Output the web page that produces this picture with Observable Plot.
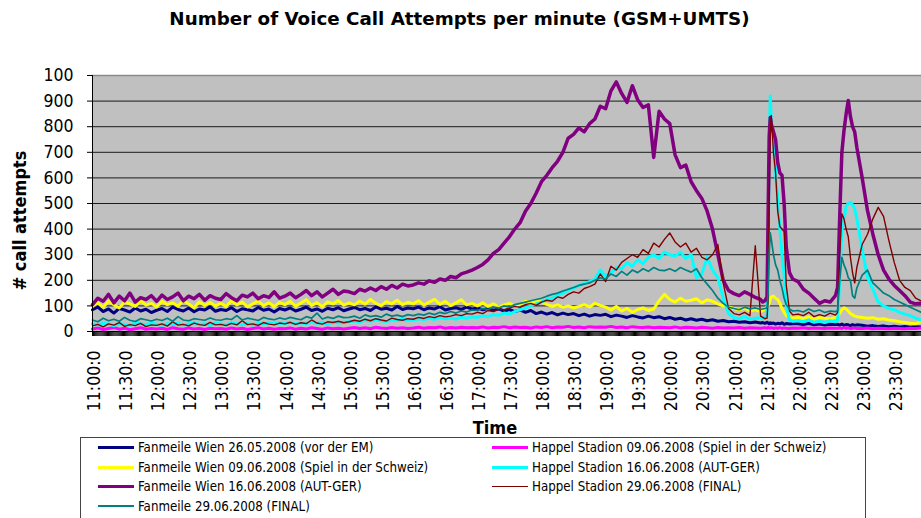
<!DOCTYPE html>
<html>
<head>
<meta charset="utf-8">
<script src="https://cdn.jsdelivr.net/npm/d3@7"></script>
<script src="https://cdn.jsdelivr.net/npm/@observablehq/plot@0.6"></script>
<style>
  html, body { margin: 0; padding: 0; background: #fff; }
  body { width: 921px; height: 518px; overflow: hidden; position: relative;
         font-family: "DejaVu Sans Condensed", "DejaVu Sans", sans-serif; font-stretch: condensed; }
  #title { height: 40px; line-height: 38px; text-align: center; font-weight: bold; font-size: 18.3px;
           font-family: "DejaVu Sans", sans-serif; font-stretch: normal; padding-right: 2px; color: #000; }
  #chart svg { display: block; }
  #legend { position: absolute; left: 80px; top: 437px; width: 784px; height: 100px;
            border: 1px solid #444; background: #fff; }
  .item { position: absolute; height: 19px; display: flex; align-items: center;
          font-size: 13.2px; color: #000; white-space: nowrap; }
  .swatch { width: 36px; margin-right: 4px; }
</style>
</head>
<body>
<div id="title">Number of Voice Call Attempts per minute (GSM+UMTS)</div>
<div id="chart"></div>
<div id="legend"></div>
<script>
// ---------------- data ----------------
const times = [
  "11:00","11:05","11:10","11:15","11:20","11:25","11:30","11:35","11:40","11:45","11:50","11:55",
  "12:00","12:05","12:10","12:15","12:20","12:25","12:30","12:35","12:40","12:45","12:50","12:55",
  "13:00","13:05","13:10","13:15","13:20","13:25","13:30","13:35","13:40","13:45","13:50","13:55",
  "14:00","14:05","14:10","14:15","14:20","14:25","14:30","14:35","14:40","14:45","14:50","14:55",
  "15:00","15:05","15:10","15:15","15:20","15:25","15:30","15:35","15:40","15:45","15:50","15:55",
  "16:00","16:05","16:10","16:15","16:20","16:25","16:30","16:35","16:40","16:45","16:50","16:55",
  "17:00","17:05","17:10","17:15","17:20","17:25","17:30","17:35","17:40","17:45","17:50","17:55",
  "18:00","18:05","18:10","18:15","18:20","18:25","18:30","18:35","18:40","18:45","18:50","18:55",
  "19:00","19:05","19:10","19:15","19:20","19:25","19:30","19:35","19:40","19:45","19:50","19:55",
  "20:00","20:05","20:10","20:15","20:20","20:25","20:30","20:35","20:40","20:45","20:50","20:55",
  "21:00","21:05","21:10","21:15","21:20","21:25",
  "21:27","21:29","21:31","21:32","21:33","21:34","21:35","21:37","21:39","21:41","21:43","21:45","21:47","21:49","21:52","21:55",
  "22:00","22:05","22:10","22:15","22:20","22:25","22:30","22:35",
  "22:37","22:39","22:41","22:43","22:45","22:47","22:49","22:51","22:53","22:55",
  "23:00","23:05","23:10","23:15","23:20","23:25","23:30","23:35","23:40","23:45","23:50","23:55"
];

const fanmeile2605 = [
  85,95,78,88,72,90,84,76,92,80,87,74,
  83,90,78,95,86,80,92,77,88,84,96,79,
  86,82,93,78,89,85,80,94,83,88,76,90,
  84,92,80,87,95,82,88,79,91,85,93,81,
  88,94,85,90,82,96,87,91,84,98,86,92,
  89,95,85,92,88,97,84,90,93,86,95,88,
  92,85,90,83,88,80,86,78,84,75,82,70,
  76,68,74,65,72,66,70,62,68,60,66,63,
  67,58,64,60,55,62,57,53,60,54,58,50,
  55,48,52,45,50,44,48,42,46,40,43,38,
  40,36,38,34,37,33,
  35,32,36,33,30,34,31,33,29,32,30,34,28,31,29,30,
  30,27,31,26,29,25,28,27,
  28,25,29,24,27,26,23,27,24,26,
  24,21,23,20,22,19,21,18,20,17,19,18
];

const happel0906 = [
  10,14,8,12,16,9,13,7,11,15,9,12,
  10,13,8,15,11,9,14,10,12,8,13,11,
  12,9,14,10,13,8,12,15,10,13,9,12,
  11,14,9,13,10,15,12,9,14,11,13,10,
  13,16,12,15,11,17,14,12,16,13,15,12,
  14,17,13,16,15,18,13,16,14,17,15,16,
  15,18,14,17,16,19,15,18,16,17,14,18,
  16,19,15,18,17,20,16,18,15,19,17,18,
  17,20,16,18,15,19,17,16,18,15,17,16,
  15,18,14,17,16,14,17,15,13,16,14,15,
  14,16,13,15,14,13,
  14,15,13,16,14,13,15,12,14,13,15,12,14,13,12,14,
  13,15,12,14,13,12,14,13,
  13,14,12,15,13,14,12,13,14,12,
  12,14,11,13,12,11,13,12,11,13,12,14
];

const fanmeile0906 = [
  100,112,95,118,104,92,115,108,98,120,103,110,
  96,118,105,112,99,122,107,94,116,102,113,100,
  110,98,120,104,115,96,108,119,101,112,97,114,
  105,118,99,111,124,102,113,97,116,108,121,103,
  112,104,119,107,125,110,101,117,108,122,105,114,
  108,120,103,115,126,106,118,101,112,124,104,110,
  100,112,98,108,95,104,110,100,106,118,112,120,
  115,106,98,104,95,100,92,98,105,96,110,102,
  95,84,98,80,90,75,86,92,82,88,120,145,
  125,115,130,118,122,128,112,124,118,108,100,96,
  90,85,92,80,86,78,
  82,88,95,100,110,125,135,138,130,125,110,90,75,62,56,52,
  55,50,57,48,54,52,49,55,
  60,72,85,92,88,80,70,65,60,58,
  55,52,54,48,50,45,42,38,35,32,30,38
];

const happel1606 = [
  30,25,33,28,22,31,27,24,34,29,26,32,
  28,24,31,27,33,25,29,35,27,30,24,32,
  29,26,34,30,27,32,25,31,28,35,30,33,
  31,36,29,34,30,38,32,35,29,37,33,36,
  38,42,36,45,40,47,42,39,46,43,48,44,
  45,50,47,52,48,55,50,53,49,56,52,58,
  55,62,58,66,63,72,68,78,85,92,100,108,
  115,125,130,142,150,162,170,180,188,195,205,240,
  215,230,250,245,270,255,280,265,290,300,285,310,
  300,295,310,285,300,210,225,290,240,210,130,70,
  55,50,58,48,52,55,
  50,55,60,300,700,920,820,760,620,520,400,300,220,100,45,40,
  42,38,45,36,40,35,42,38,
  45,200,395,440,490,500,505,495,480,440,
  320,211,165,115,100,90,85,75,68,62,52,45
];

const fanmeile1606 = [
  105,130,118,145,112,138,120,150,115,132,125,140,
  118,142,125,135,150,120,138,128,145,122,140,130,
  125,148,132,120,142,135,150,128,140,133,155,130,
  138,150,132,145,160,140,155,135,150,165,145,158,
  155,148,165,158,170,160,175,165,180,170,185,178,
  182,190,185,198,192,205,200,215,210,225,232,240,
  250,262,280,305,320,345,370,400,425,470,500,540,
  585,610,640,665,700,755,770,795,780,812,830,880,
  870,940,975,930,895,960,905,875,885,680,860,830,
  812,690,640,650,585,550,520,470,400,300,200,160,
  148,140,155,145,133,125,
  115,120,135,450,760,836,810,780,750,660,620,610,500,330,230,205,
  195,165,150,130,110,120,115,140,
  172,450,700,785,850,902,840,800,780,720,
  600,472,380,300,240,205,180,160,140,115,108,110
];

const happel2906 = [
  22,28,18,30,25,35,20,27,23,32,19,26,
  24,30,21,38,25,28,22,33,27,24,36,26,
  28,23,32,26,42,27,30,24,35,29,26,33,
  30,36,28,34,31,45,33,29,38,35,40,34,
  38,44,40,48,42,50,45,41,52,47,44,50,
  48,55,51,58,54,62,57,60,66,62,70,68,
  75,70,82,78,88,84,92,98,94,105,110,102,
  115,122,118,135,130,145,155,150,168,175,185,225,
  195,255,240,270,285,300,290,320,305,345,330,360,
  385,350,330,345,310,325,290,280,300,340,190,90,
  70,65,75,62,335,60,
  55,50,52,120,500,760,844,700,620,470,410,400,390,180,80,65,
  68,62,75,58,66,60,72,64,
  75,300,460,440,400,370,290,230,190,250,
  340,380,440,485,450,355,270,200,172,160,130,120
];

const fanmeile2906 = [
  45,38,52,42,48,40,55,44,39,50,46,41,
  48,43,52,40,58,45,42,50,47,44,53,46,
  44,50,47,62,45,52,48,43,55,49,46,53,
  48,55,50,46,58,52,72,49,56,51,60,54,
  55,60,52,65,58,62,56,68,60,64,58,66,
  62,68,64,72,66,75,70,78,72,80,76,84,
  82,90,86,95,92,100,96,105,110,115,120,125,
  130,138,145,150,158,165,172,180,185,190,200,210,
  205,225,215,235,220,240,230,245,235,250,240,238,
  245,235,250,240,232,245,210,185,160,130,110,95,
  90,85,95,88,92,86,
  88,90,92,150,300,385,360,300,260,240,200,170,130,105,88,80,
  82,76,88,78,84,74,80,78,
  82,200,290,260,240,210,200,140,130,170,
  220,240,190,170,150,140,125,115,105,95,85,75
];

const seriesNames = [
  "Fanmeile Wien 26.05.2008 (vor der EM)",
  "Happel Stadion 09.06.2008 (Spiel in der Schweiz)",
  "Fanmeile Wien 09.06.2008 (Spiel in der Schweiz)",
  "Happel Stadion 16.06.2008 (AUT-GER)",
  "Fanmeile Wien 16.06.2008 (AUT-GER)",
  "Happel Stadion 29.06.2008 (FINAL)",
  "Fanmeile 29.06.2008 (FINAL)"
];
const seriesValues = [fanmeile2605, happel0906, fanmeile0906, happel1606, fanmeile1606, happel2906, fanmeile2906];
const seriesColors = ["#000080", "#ff00ff", "#ffff00", "#00ffff", "#800080", "#800000", "#008080"];
const seriesWidths = [3, 3, 3, 3, 3.5, 1.4, 1.7];

const xTickLabels = ["11:00:0","11:30:0","12:00:0","12:30:0","13:00:0","13:30:0","14:00:0","14:30:0",
  "15:00:0","15:30:0","16:00:0","16:30:0","17:00:0","17:30:0","18:00:0","18:30:0","19:00:0","19:30:0",
  "20:00:0","20:30:0","21:00:0","21:30:0","22:00:0","22:30:0","23:00:0","23:30:0"];
const yTicks = [0,100,200,300,400,500,600,700,800,900,1000];
const yTickLabels = ["0","100","200","300","400","500","600","700","800","900","100"];

// ---------------- build ----------------
const toMin = s => { const [h, m] = s.split(":").map(Number); return h * 60 + m; };
const tMin = times.map(toMin);
const xLabelTicks = xTickLabels.map(toMin);
const minuteTicks = d3.range(660, 1436, 1);
const FONT = '"DejaVu Sans Condensed", "DejaVu Sans", sans-serif';

const lineMarks = seriesValues.map((vals, k) =>
  Plot.line(vals.map((v, i) => ({t: tMin[i], v})), {
    x: "t", y: "v", stroke: seriesColors[k], strokeWidth: seriesWidths[k],
    strokeLinejoin: "round", strokeLinecap: "round"
  })
);

const chart = Plot.plot({
  width: 921, height: 396,
  marginLeft: 92, marginRight: 0, marginTop: 35, marginBottom: 105,
  x: {domain: [660, 1435.5], label: null},
  y: {domain: [0, 1000], label: null},
  style: {fontFamily: FONT, fontStretch: "condensed", color: "#000", background: "transparent", overflow: "visible"},
  marks: [
    Plot.frame({fill: "#c0c0c0", stroke: null}),
    Plot.ruleY(yTicks.slice(1, -1), {stroke: "#1a1a1a", strokeWidth: 1}),
    Plot.ruleY([1000], {stroke: "#8a8a8a", strokeWidth: 1.5}),
    ...lineMarks,
    Plot.ruleY([0], {stroke: "#000", strokeWidth: 1}),
    Plot.ruleX([660], {stroke: "#000", strokeWidth: 1}),
    Plot.axisY({ticks: yTicks, tickFormat: (d, i) => yTickLabels[i], tickSize: 5, tickPadding: 14,
                label: null, fontSize: 17.5}),
    Plot.axisX({ticks: minuteTicks, tickFormat: () => "", tickSize: 5, label: null, strokeWidth: 1}),
    Plot.axisX({ticks: xLabelTicks, tickFormat: (d, i) => xTickLabels[i], tickSize: 0, tickPadding: 19,
                tickRotate: -90, label: null, fontSize: 17.5, dx: 2}),
    Plot.text(["# call attempts"], {frameAnchor: "left", textAnchor: "middle", rotate: -90, dx: -72, dy: 17,
                fontWeight: "bold", fontSize: 18, fill: "#000"}),
    Plot.text(["Time"], {frameAnchor: "bottom", dx: -12, dy: 97, fontWeight: "bold", fontSize: 18,
                fill: "#000", lineAnchor: "middle"})
  ]
});
document.getElementById("chart").appendChild(chart);

// legend
const legend = document.getElementById("legend");
const legendCols = [17, 411];
seriesNames.forEach((name, k) => {
  const col = k % 2, row = Math.floor(k / 2);
  const item = document.createElement("div");
  item.className = "item";
  item.style.left = legendCols[col] + "px";
  item.style.top = (row * 19.5) + "px";
  const sw = document.createElement("div");
  sw.className = "swatch";
  sw.style.height = seriesWidths[k] + "px";
  sw.style.background = seriesColors[k];
  const tx = document.createElement("span");
  tx.textContent = name;
  item.appendChild(sw); item.appendChild(tx);
  legend.appendChild(item);
});
</script>
</body>
</html>
